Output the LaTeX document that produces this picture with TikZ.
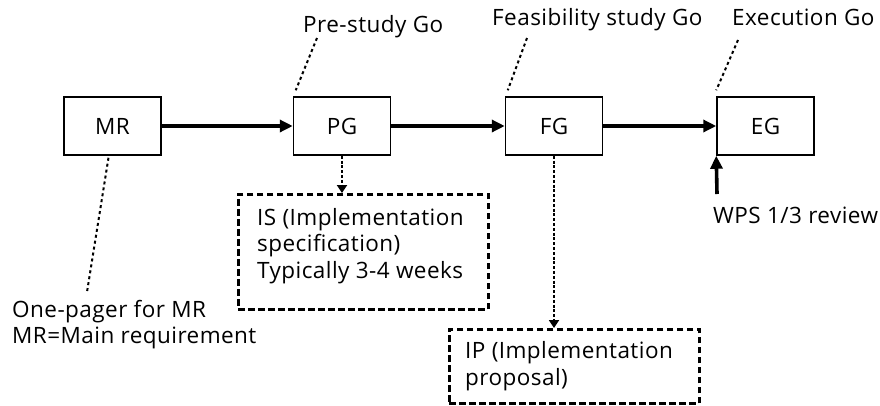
\documentclass[tikz,border=0pt]{standalone}
\usepackage{fontspec}
\setmainfont{Open Sans}[LetterSpace=2]
\usetikzlibrary{arrows.meta}
\begin{document}
\begin{tikzpicture}[x=1pt,y=-1pt,
  gate/.style={draw, line width=1.5pt, minimum width=97pt, minimum height=58pt, inner sep=0pt, font=\fontsize{22.5}{26}\selectfont},
  lbl/.style={anchor=base west, inner sep=0pt, font=\fontsize{22.5}{26}\selectfont},
  notebox/.style={draw, line width=2.6pt, dash pattern=on 6.5pt off 3.5pt, anchor=north west, inner sep=0pt},
  flow/.style={line width=3.6pt, -{Triangle[length=13pt,width=12pt]}},
  link/.style={line width=1.8pt, dash pattern=on 3pt off 1.8pt, -{Triangle[length=8pt,width=10pt]}},
  hint/.style={line width=2pt, dash pattern=on 3pt off 3pt}]
\useasboundingbox (0,0) rectangle (880,405);

% gates
\node[gate] (mr) at (112.5,126) {MR};
\node[gate] (pg) at (342,126) {PG};
\node[gate] (fg) at (554,126) {FG};
\node[gate] (eg) at (765.5,126) {EG};

% main flow
\draw[flow] (mr.east) -- (pg.west);
\draw[flow] (pg.east) -- (fg.west);
\draw[flow] (fg.east) -- (eg.west);

% gate captions
\node[lbl] (pgcap) at (303,32) {Pre-study Go};
\node[lbl] (fgcap) at (492,25) {Feasibility study Go};
\node[lbl] (egcap) at (732,25) {Execution Go};
\coordinate (pgc) at (317,38);
\coordinate (fgc) at (527,38);
\coordinate (egc) at (738,40);
\draw[hint] (pgc) -- ([shift={(3,-6)}]pg.north west);
\draw[hint] (fgc) -- ([shift={(3,-6)}]fg.north west);
\draw[hint] (egc) -- ([shift={(0,-6)}]eg.north west);

% one-pager note
\node[lbl] (mrnote1) at (12,317) {One-pager for MR};
\node[lbl] (mrnote2) at (12,343) {MR=Main requirement};
\coordinate (mrc) at (87,292);
\draw[hint] ([shift={(-4,2)}]mr.south) -- (mrc);

% implementation specification (base anchor sits on the last line)
\node[notebox, minimum width=250pt, minimum height=115pt] (is) at (237,193) {};
\node[lbl, align=left, font=\fontsize{22.5}{26.5}\selectfont] (istext) at (257,278)
  {IS (Implementation\\specification)\\Typically 3-4 weeks};
\draw[link] (pg.south) -- (is.north -| pg.south);

% implementation proposal
\node[notebox, minimum width=250pt, minimum height=74pt] (ip) at (448,328) {};
\node[lbl, align=left, font=\fontsize{22.5}{27}\selectfont] (iptext) at (465,385)
  {IP (Implementation\\proposal)};
\draw[link] (fg.south) -- (ip.north -| fg.south);

% WPS review
\node[lbl] (wps) at (713,223) {WPS 1/3 review};
\coordinate (wpsc) at (717,194);
\draw[flow] (wpsc) -- (eg.south west);
\end{tikzpicture}
\end{document}
